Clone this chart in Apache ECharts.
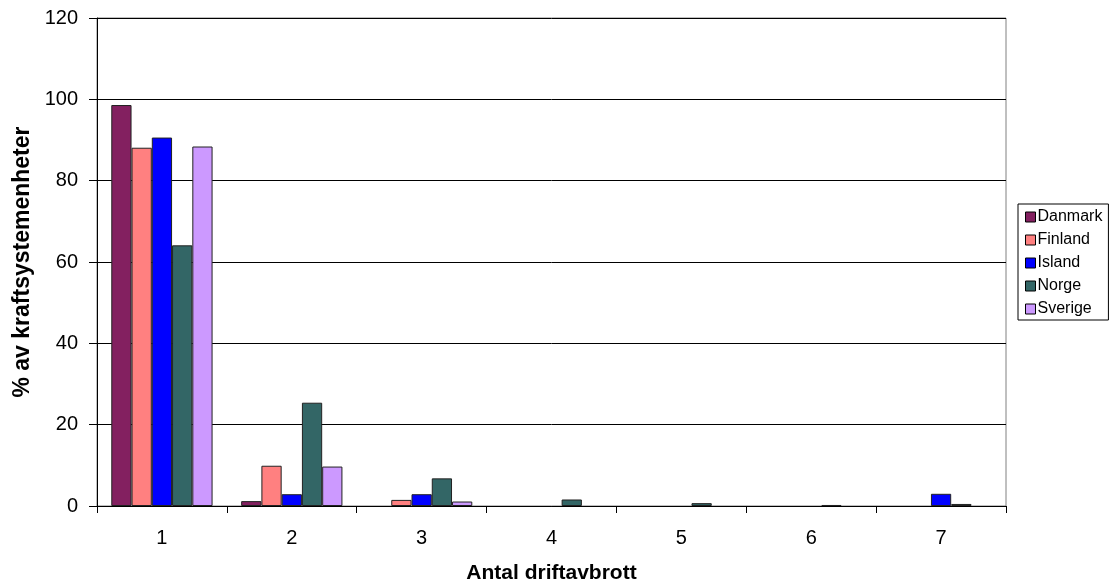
<!DOCTYPE html>
<html><head><meta charset="utf-8">
<script src="https://cdn.jsdelivr.net/npm/echarts@6/dist/echarts.min.js"></script>
<style>html,body{margin:0;padding:0;background:#fff}#c{width:1109px;height:587px}</style>
</head><body><div id="c"></div>
<script>
var categories = ['1','2','3','4','5','6','7'];
var seriesNames = ['Danmark','Finland','Island','Norge','Sverige'];
var danmark = [98.6, 1.2, 0, 0, 0, 0, 0];
var finland = [88.1, 9.9, 1.5, 0, 0, 0, 0];
var island  = [90.6, 2.9, 2.9, 0, 0, 0, 3.0];
var norge   = [64.1, 25.4, 6.8, 1.6, 0.7, 0.25, 0.5];
var sverige = [88.4, 9.7, 1.1, 0, 0, 0, 0];
var colors = ['#832060', '#FF8080', '#0000FF', '#336666', '#CC99FF'];
var yTicks = [0, 20, 40, 60, 80, 100, 120];

var data = [danmark, finland, island, norge, sverige];
var chart = echarts.init(document.getElementById('c'));
var font = 'Liberation Sans, Arial, sans-serif';
chart.setOption({
  animation: false,
  backgroundColor: '#fff',
  grid: {left: 97, right: 103, top: 18, bottom: 81, containLabel: false, outerBoundsMode: 'none',
         show: true, borderColor: '#808080', borderWidth: 1},
  legend: {
    orient: 'vertical', left: 1018, top: 204,
    padding: [5, 6, 3, 7],
    borderColor: '#000', borderWidth: 1,
    itemWidth: 10, itemHeight: 10, itemGap: 7,
    icon: 'rect',
    textStyle: {fontFamily: font, fontSize: 16, color: '#000', padding: [0,0,0,-3]},
    itemStyle: {borderColor: '#000', borderWidth: 1},
    data: seriesNames
  },
  xAxis: {
    type: 'category', data: categories,
    name: 'Antal driftavbrott', nameLocation: 'middle', nameGap: 57, nameMoveOverlap: false,
    nameTextStyle: {fontFamily: font, fontSize: 21, fontWeight: 'bold', color: '#000'},
    axisLine: {lineStyle: {color: '#000'}},
    axisTick: {show: true, length: 7, lineStyle: {color: '#000'}},
    axisLabel: {fontFamily: font, fontSize: 20, color: '#000', margin: 22}
  },
  yAxis: {
    type: 'value', min: 0, max: 120, interval: 20,
    name: '% av kraftsystemenheter', nameLocation: 'middle', nameGap: 63, nameMoveOverlap: false,
    nameTextStyle: {fontFamily: font, fontSize: 23, fontWeight: 'bold', color: '#000'},
    axisLine: {show: true, lineStyle: {color: '#000'}},
    axisTick: {show: true, length: 8, lineStyle: {color: '#000'}},
    axisLabel: {fontFamily: font, fontSize: 20, color: '#000', margin: 19,
      formatter: function (v) { return yTicks.indexOf(v) >= 0 ? String(v) : ''; }},
    splitLine: {show: true, lineStyle: {color: '#000', width: 1}}
  },
  series: seriesNames.map(function (n, i) {
    return {
      name: n, type: 'bar',
      data: data[i].map(function (v) { return v === 0 ? '-' : v; }),
      barGap: '0%', barCategoryGap: '22%',
      itemStyle: {color: colors[i], borderColor: '#222', borderWidth: 1}
    };
  })
});
</script></body></html>
